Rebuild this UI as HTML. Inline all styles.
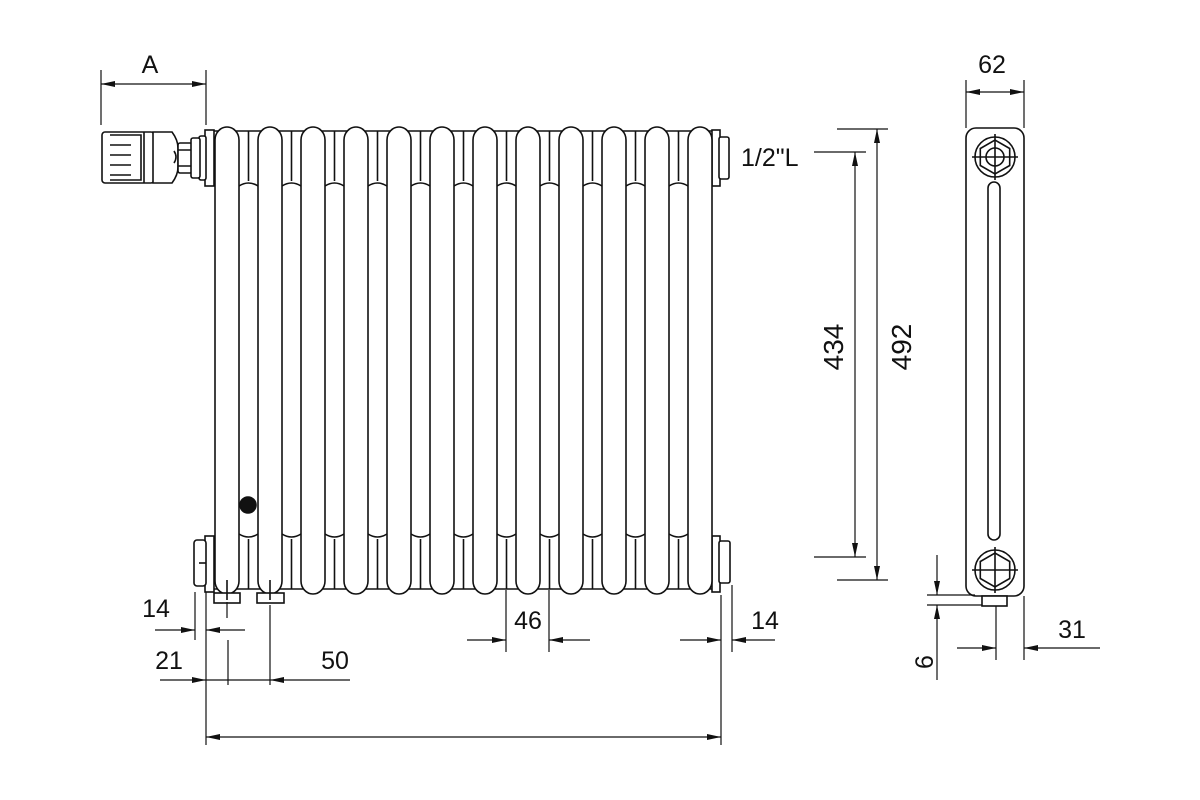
<!DOCTYPE html>
<html><head><meta charset="utf-8"><style>
html,body{margin:0;padding:0;background:#fff;}
svg{display:block;}
text{font-family:"Liberation Sans",sans-serif;fill:#111;}
</style></head><body>
<svg width="1200" height="800" viewBox="0 0 1200 800" xmlns="http://www.w3.org/2000/svg">
<defs>
<marker id="ar" viewBox="0 0 10 6" refX="10" refY="3" markerWidth="10" markerHeight="6" orient="auto-start-reverse" markerUnits="userSpaceOnUse"><path d="M0,0 L10,3 L0,6 z" fill="#111"/></marker>
<marker id="ar2" viewBox="0 0 14 6" refX="14" refY="3" markerWidth="14" markerHeight="6" orient="auto-start-reverse" markerUnits="userSpaceOnUse"><path d="M0,0 L14,3 L0,6 z" fill="#111"/></marker>
</defs>
<g stroke="#111" stroke-width="1.6" fill="none">
<path d="M212,131 H718 M212,589 H718"/>
<g id="gaps"></g>
</g>
<g stroke="#111" stroke-width="1.6" fill="#fff" id="rad"></g>
<g stroke="#111" stroke-width="1.2" fill="none" id="dims"></g>
<script>
(function(){
var ns="http://www.w3.org/2000/svg";
var rad=document.getElementById('rad');
var gaps=document.getElementById('gaps');
function el(p,t,a){var e=document.createElementNS(ns,t);for(var k in a)e.setAttribute(k,a[k]);p.appendChild(e);return e;}
for(var i=0;i<11;i++){
 var g0=239+43*i,g1=g0+19,m=(g0+g1)/2;
 el(gaps,'path',{d:'M'+m+',131 V181 M'+g0+',186 Q'+m+',180 '+g1+',186'});
 el(gaps,'path',{d:'M'+m+',589 V539 M'+g0+',534 Q'+m+',540 '+g1+',534'});
}
el(rad,'rect',{x:205,y:130,width:9,height:56});
el(rad,'rect',{x:199,y:136,width:7,height:44,rx:2});
el(rad,'rect',{x:205,y:536,width:9,height:56});
el(rad,'rect',{x:194,y:540,width:12,height:46,rx:3});
el(rad,'path',{d:'M199,563 H206',fill:'none'});
el(rad,'rect',{x:712,y:130,width:8,height:56});
el(rad,'rect',{x:719,y:137,width:10,height:42,rx:2});
el(rad,'rect',{x:712,y:536,width:8,height:56});
el(rad,'rect',{x:719,y:541,width:11,height:42,rx:2});
for(var i=0;i<12;i++){
 el(rad,'rect',{x:215+43*i,y:127,width:24,height:467,rx:12,ry:13});
}
el(rad,'rect',{x:214,y:593,width:26,height:10});
el(rad,'rect',{x:257,y:593,width:27,height:10});
el(rad,'path',{d:'M227,580 V600 M270,580 V600',fill:'none'});
el(rad,'circle',{cx:248,cy:505,r:8,fill:'#111'});
el(rad,'rect',{x:102,y:132,width:52,height:51,rx:3});
el(rad,'path',{d:'M110,135 H141 V180 H110 M110,145 H131 M110,155 H131 M110,165 H131 M110,175 H131',fill:'none'});
el(rad,'path',{d:'M144,132 V183 M153,132 H172 Q178,140 178,148 V167 Q178,175 172,183 H153 z'});
el(rad,'path',{d:'M174,151 Q178,157 174,163',fill:'none'});
el(rad,'rect',{x:178,y:143,width:14,height:30,rx:2});
el(rad,'path',{d:'M178,150 H192 M178,166 H192',fill:'none'});
el(rad,'rect',{x:191,y:138,width:9,height:40,rx:2});
el(rad,'rect',{x:966,y:128,width:58,height:468,rx:10});
el(rad,'rect',{x:982,y:596,width:25,height:10});
el(rad,'rect',{x:988,y:182,width:12,height:358,rx:6});
function fit(cy,inner){
 el(rad,'circle',{cx:995,cy:cy,r:20});
 var p='';for(var k=0;k<6;k++){var a=Math.PI/3*k+Math.PI/6;p+=(k?'L':'M')+(995+17*Math.cos(a)).toFixed(1)+','+(cy+17*Math.sin(a)).toFixed(1);}
 el(rad,'path',{d:p+'z',fill:'none'});
 if(inner)el(rad,'circle',{cx:995,cy:cy,r:9,fill:'none'});
 el(rad,'path',{d:'M972,'+cy+' H1018 M995,'+(cy-23)+' V'+(cy+23),fill:'none'});
}
fit(157,true);fit(570,false);
var d=document.getElementById('dims');
function L(x1,y1,x2,y2){el(d,'line',{x1:x1,y1:y1,x2:x2,y2:y2});}
function A(x1,y1,x2,y2,big){el(d,'line',{x1:x1,y1:y1,x2:x2,y2:y2,'marker-end':'url(#'+(big?'ar2':'ar')+')'});}
L(101,70,101,125);L(206,70,206,125);A(150,84,101,84,1);A(150,84,206,84,1);
L(814,152,866,152);L(814,557,866,557);A(855,345,855,152,1);A(855,345,855,557,1);
L(837,129,888,129);L(837,580,888,580);A(877,345,877,129,1);A(877,345,877,580,1);
L(966,80,966,128);L(1024,80,1024,128);A(995,92,966,92,1);A(995,92,1024,92,1);
L(927,595,975,595);L(927,605,982,605);
A(937,555,937,595,1);A(937,680,937,605,1);
L(996,606,996,660);L(1024,596,1024,660);
A(957,648,996,648,1);A(1100,648,1024,648,1);
L(195,592,195,640);L(206,592,206,745);
A(155,630,195,630,1);A(245,630,206,630,1);
L(228,640,228,685);L(270,605,270,685);L(227,602,227,618);
A(160,680,206,680,1);A(350,680,270,680,1);L(206,680,270,680);
L(721,595,721,745);A(460,737,206,737,1);A(460,737,721,737,1);
L(506,590,506,652);L(549,590,549,652);A(467,640,506,640,1);A(590,640,549,640,1);
L(732,585,732,652);A(680,640,721,640,1);A(775,640,732,640,1);
})();
</script>
<text x="150" y="73" font-size="25" text-anchor="middle">A</text>
<text x="741" y="166" font-size="25">1/2"L</text>
<text x="992" y="73" font-size="25" text-anchor="middle">62</text>
<text x="1072" y="638" font-size="25" text-anchor="middle">31</text>
<text x="156" y="617" font-size="25" text-anchor="middle">14</text>
<text x="169" y="669" font-size="25" text-anchor="middle">21</text>
<text x="335" y="669" font-size="25" text-anchor="middle">50</text>
<text x="528" y="629" font-size="25" text-anchor="middle">46</text>
<text x="765" y="629" font-size="25" text-anchor="middle">14</text>
<text transform="translate(843,347) rotate(-90)" font-size="28" text-anchor="middle">434</text>
<text transform="translate(911,347) rotate(-90)" font-size="28" text-anchor="middle">492</text>
<text transform="translate(933,662) rotate(-90)" font-size="25" text-anchor="middle">6</text>
</svg>
</body></html>
